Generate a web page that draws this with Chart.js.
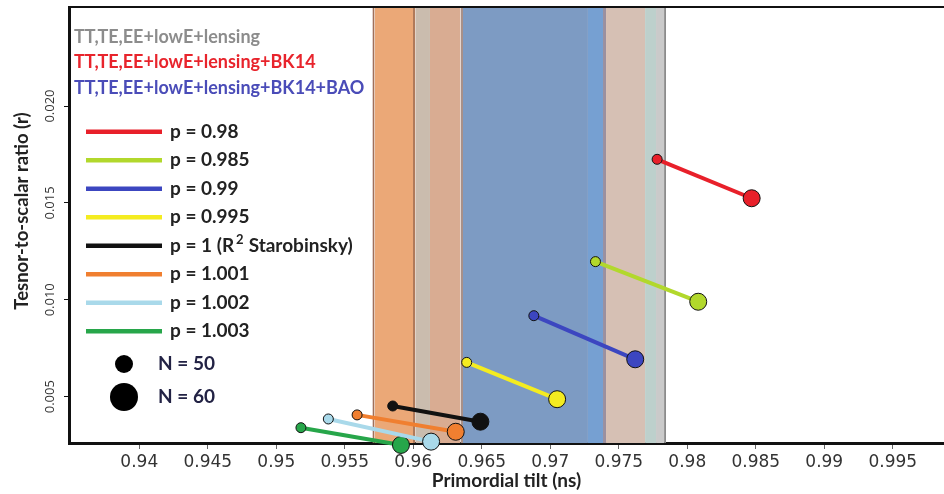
<!DOCTYPE html>
<html>
<head>
<meta charset="utf-8">
<script src="https://cdn.jsdelivr.net/npm/chart.js@4.4.0/dist/chart.umd.min.js"></script>
<style>
  body { margin: 0; background: #fff; }
  #wrap { width: 944px; height: 494px; }
</style>
</head>
<body>
<div id="wrap"><canvas id="c" width="944" height="494"></canvas></div>
<script>
// axis ticks
const nsTicks = [0.94, 0.945, 0.95, 0.955, 0.96, 0.965, 0.97, 0.975, 0.98, 0.985, 0.99, 0.995];
const rTicks = [0.005, 0.010, 0.015, 0.020];

// model curves: p value, N = 50 end and N = 60 end
const pLabels = ['p = 0.98', 'p = 0.985', 'p = 0.99', 'p = 0.995', 'p = 1 (R', 'p = 1.001', 'p = 1.002', 'p = 1.003'];
const ns50 = [0.9778, 0.9733, 0.9688, 0.9639, 0.9585, 0.9559, 0.9538, 0.9518];
const r50  = [0.01725, 0.01197, 0.00918, 0.00677, 0.00452, 0.00406, 0.00385, 0.00340];
const ns60 = [0.9847, 0.9808, 0.9762, 0.9705, 0.9649, 0.9631, 0.9613, 0.9591];
const r60  = [0.01524, 0.00990, 0.00693, 0.00487, 0.00371, 0.00319, 0.00268, 0.00251];
const pColors = ['#e8202a', '#b2d82c', '#3c46c0', '#f4ec20', '#111111', '#f07f30', '#a9d9ea', '#27a64a'];

// Planck / BK14 / BAO constraint bands on ns
const bandFrom = [0.95702, 0.95717, 0.95998, 0.96016, 0.96122, 0.96345, 0.96363, 0.97275, 0.97385, 0.97407, 0.97692, 0.97772, 0.97831];
const bandTo   = [0.95717, 0.95998, 0.96016, 0.96122, 0.96345, 0.96363, 0.97275, 0.97385, 0.97407, 0.97692, 0.97772, 0.97831, 0.97845];
const bandColors = ['#a0705a', '#eba877', '#b07a5a', '#cabcae', '#d9ac92', '#a89088', '#7d9bc3', '#76a0d2', '#9a90a0', '#d6c0b4', '#bdd0cc', '#cacaca', '#8c8c8c'];

const datasetNames = ['TT,TE,EE+lowE+lensing', 'TT,TE,EE+lowE+lensing+BK14', 'TT,TE,EE+lowE+lensing+BK14+BAO'];
const datasetColors = ['#8c8c8c', '#e8242c', '#4a4cb8'];

const X_MIN = 0.93487, X_MAX = 0.99874;
const Y_MIN = 0.00261, Y_MAX = 0.02511;

const datasets = [];
bandFrom.forEach((a, i) => {
  datasets.push({
    type: 'line',
    data: [{ x: a, y: Y_MAX }, { x: bandTo[i], y: Y_MAX }],
    fill: 'start',
    backgroundColor: bandColors[i],
    borderWidth: 0,
    pointRadius: 0,
    order: 10
  });
});
pLabels.forEach((lab, i) => {
  datasets.push({
    type: 'line',
    label: lab,
    data: [{ x: ns50[i], y: r50[i] }, { x: ns60[i], y: r60[i] }],
    borderColor: pColors[i],
    backgroundColor: pColors[i],
    borderWidth: 4,
    pointRadius: [5, 8.5],
    pointBorderColor: '#111',
    pointBorderWidth: 1,
    fill: false,
    clip: false,
    order: i
  });
});

const overlay = {
  id: 'overlay',
  afterDraw(chart) {
    const c = chart.ctx;
    const a = chart.chartArea;
    const ys = chart.scales.y;
    c.save();
    // top frame line
    c.strokeStyle = '#111';
    c.lineWidth = 2;
    c.beginPath();
    c.moveTo(a.left - 1, a.top);
    c.lineTo(a.right, a.top);
    c.stroke();

    // rotated y tick labels
    c.fillStyle = '#333';
    c.font = '13px "Open Sans"';
    c.textAlign = 'center';
    c.textBaseline = 'middle';
    ys.ticks.forEach(t => {
      const y = ys.getPixelForValue(t.value);
      c.save();
      c.translate(50, y);
      c.rotate(-Math.PI / 2);
      c.fillText(t.value.toFixed(3), 0, 0);
      c.restore();
    });

    // y title
    c.save();
    c.translate(22, 211);
    c.rotate(-Math.PI / 2);
    c.fillStyle = '#222';
    c.font = 'bold 18.5px Lato';
    c.fillText('Tesnor-to-scalar ratio (r)', 0, 0);
    c.restore();

    // dataset names
    c.textAlign = 'left';
    c.font = 'bold 18px Lato';
    datasetNames.forEach((n, i) => {
      c.fillStyle = datasetColors[i];
      c.fillText(n, 74, 37 + i * 25.5);
    });

    // p legend
    c.font = 'bold 19px Lato';
    pLabels.forEach((lab, i) => {
      const y = 131.7 + i * 28.5;
      c.strokeStyle = pColors[i];
      c.lineWidth = 4.5;
      c.beginPath();
      c.moveTo(86, y);
      c.lineTo(162, y);
      c.stroke();
      c.fillStyle = '#222';
      c.fillText(lab, 170, y);
      if (i === 4) {
        // R^2 Starobinsky
        let x = 170 + c.measureText(lab).width + 2;
        c.font = 'bold 13px Lato';
        c.fillText('2', x, y - 6);
        x += c.measureText('2').width + 5;
        c.font = 'bold 19px Lato';
        c.fillText('Starobinsky)', x, y);
      }
    });

    // N legend
    [['N = 50', 9, 364], ['N = 60', 14, 397]].forEach(([lab, r, y]) => {
      c.fillStyle = '#000';
      c.beginPath();
      c.arc(124, y, r, 0, Math.PI * 2);
      c.fill();
      c.fillStyle = '#222244';
      c.fillText(lab, 158, y);
    });
    c.restore();
  }
};

new Chart(document.getElementById('c'), {
  type: 'scatter',
  data: { datasets },
  options: {
    responsive: false,
    animation: false,
    layout: { autoPadding: false, padding: { top: 7, right: 0, left: 0, bottom: 0 } },
    plugins: { legend: { display: false }, tooltip: { enabled: false } },
    scales: {
      x: {
        type: 'linear',
        min: X_MIN,
        max: X_MAX,
        afterBuildTicks: s => { s.ticks = nsTicks.map(v => ({ value: v })); },
        afterFit: s => { s.height = 51; s.paddingLeft = 0; s.paddingRight = 0; },
        border: { display: true, color: '#111', width: 3 },
        grid: { drawOnChartArea: false, drawTicks: true, tickLength: 6, color: '#666' },
        ticks: {
          autoSkip: false,
          maxRotation: 0,
          padding: 3,
          color: '#333',
          font: { family: 'DejaVu Sans', size: 17 },
          callback: v => String(+v.toFixed(3))
        },
        title: {
          display: true,
          text: 'Primordial tilt (ns)',
          color: '#222',
          font: { family: 'Lato', size: 19, weight: 'bold' },
          padding: { top: 0, bottom: 2 }
        }
      },
      y: {
        type: 'linear',
        min: Y_MIN,
        max: Y_MAX,
        afterBuildTicks: s => { s.ticks = rTicks.map(v => ({ value: v })); },
        afterFit: s => { s.width = 69; s.paddingTop = 0; s.paddingBottom = 0; },
        border: { display: true, color: '#111', width: 3 },
        grid: { drawOnChartArea: false, drawTicks: true, tickLength: 5, color: '#111' },
        ticks: { display: false }
      }
    }
  },
  plugins: [overlay]
});
</script>
</body>
</html>
